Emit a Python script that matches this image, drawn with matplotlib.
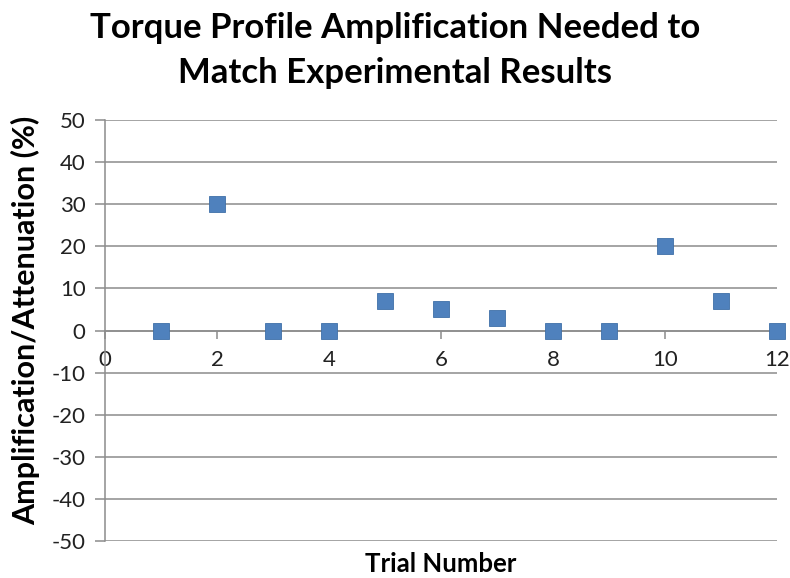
import matplotlib.pyplot as plt

trial = [1, 2, 3, 4, 5, 6, 7, 8, 9, 10, 11, 12]
amplification = [0, 30, 0, 0, 7, 5, 3, 0, 0, 20, 7, 0]
x_ticks = [0, 2, 4, 6, 8, 10, 12]
y_ticks = [-50, -40, -30, -20, -10, 0, 10, 20, 30, 40, 50]

plt.rcParams['font.family'] = ['Lato', 'DejaVu Sans']
plt.rcParams['axes.unicode_minus'] = False
grid_color = '#8c8c8c'

fig = plt.figure(figsize=(7.9, 5.78), dpi=100)
ax = fig.add_axes([0.1329, 0.064, 0.8506, 0.7284])

ax.plot(trial, amplification, 's', color='#4f81bd', markersize=11.5,
        markeredgecolor='#3f6fa8', markeredgewidth=0.6, clip_on=False, zorder=5)

ax.set_xlim(0, 12)
ax.set_ylim(-50, 50)
ax.set_xticks(x_ticks)
ax.set_yticks(y_ticks)

ax.yaxis.grid(True, color=grid_color, linewidth=1.1)
ax.set_axisbelow(True)

for s in ['top', 'right']:
    ax.spines[s].set_visible(False)
ax.spines['bottom'].set_position(('data', 0))
ax.spines['bottom'].set_color(grid_color)
ax.spines['left'].set_color(grid_color)
ax.spines['bottom'].set_linewidth(1.1)
ax.spines['left'].set_linewidth(1.1)

ax.tick_params(axis='y', direction='out', length=7, width=1.1, color=grid_color,
               labelsize=16, pad=7, labelcolor='#222222')
ax.tick_params(axis='x', direction='out', length=6, width=1.1, color=grid_color,
               labelsize=16, pad=8, labelcolor='#222222')

ax.set_xlabel('Trial Number', fontsize=18.5, fontweight='bold')
ax.xaxis.set_label_coords(0.5, -0.025)
ax.set_ylabel('Amplification/Attenuation (%)', fontsize=22, fontweight='bold')
ax.yaxis.set_label_coords(-0.097, 0.525)

fig.suptitle('Torque Profile Amplification Needed to\nMatch Experimental Results',
             fontsize=25, fontweight='bold', x=0.5, y=0.98, linespacing=1.5)

plt.savefig('out.png', dpi=100)
